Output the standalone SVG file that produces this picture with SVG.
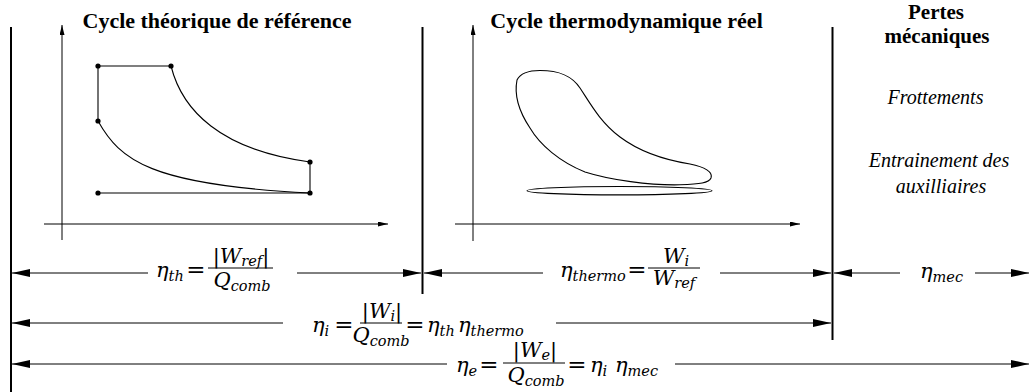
<svg xmlns="http://www.w3.org/2000/svg" width="1030" height="392" viewBox="0 0 1030 392">
<style>
.bg{fill:#fff}
.sep{stroke:#000;stroke-width:2;fill:none}
.ln{stroke:#000;stroke-width:1;fill:none}
.ax{stroke:#000;stroke-width:1;fill:none}
.cv{stroke:#000;stroke-width:1.1;fill:none}
.dot{fill:#000}
.t{font-family:"Liberation Serif","Times New Roman",serif;font-weight:bold;font-size:22px;text-anchor:middle;fill:#000}
.t2{font-family:"Liberation Serif","Times New Roman",serif;font-weight:bold;font-size:21px;text-anchor:middle;fill:#000}
.it{font-family:"Liberation Serif","Times New Roman",serif;font-style:italic;font-size:20px;text-anchor:middle;fill:#000}
.m{font-family:"DejaVu Serif","Liberation Serif",serif;font-style:italic;font-size:21px;fill:#000}
.c{text-anchor:middle}
.r{font-style:normal}
.s{font-size:14.5px}
.eq{font-size:23px}
</style>
<defs>
<marker id="ah" markerUnits="userSpaceOnUse" markerWidth="19" markerHeight="9" refX="18" refY="4" orient="auto">
<path d="M0,0 L18,4 L0,8 z" fill="#000"/>
</marker>
<marker id="axh" markerUnits="userSpaceOnUse" markerWidth="11" markerHeight="5" refX="10" refY="2.5" orient="auto">
<path d="M0,0 L10,2.5 L0,5 z" fill="#000"/>
</marker>
</defs>
<rect class="bg" x="0" y="0" width="1030" height="392"/>

<g id="separators">
<line class="sep" x1="11" y1="27" x2="11" y2="392"/>
<line class="sep" x1="422.5" y1="27" x2="422.5" y2="294"/>
<line class="sep" x1="832.5" y1="27" x2="832.5" y2="340"/>
</g>

<g id="cycle-theorique">
<text class="t" x="217" y="28">Cycle théorique de référence</text>
<line class="ax" x1="62" y1="240" x2="62" y2="25" marker-end="url(#axh)"/>
<line class="ax" x1="44" y1="224" x2="388" y2="224" marker-end="url(#axh)"/>
<line class="cv" x1="98" y1="66" x2="171" y2="66"/>
<line class="cv" x1="98" y1="66" x2="98" y2="121"/>
<line class="cv" x1="310" y1="162" x2="310" y2="193"/>
<line class="cv" x1="98" y1="193" x2="310" y2="193"/>
<path class="cv" d="M171,66 C182,110 220,150 310,162"/>
<path class="cv" d="M98,121 C120,160 150,185 310,193"/>
<circle class="dot" cx="98" cy="66" r="2.6"/>
<circle class="dot" cx="171" cy="66" r="2.6"/>
<circle class="dot" cx="98" cy="121" r="2.6"/>
<circle class="dot" cx="310" cy="162" r="2.6"/>
<circle class="dot" cx="310" cy="193" r="2.6"/>
<circle class="dot" cx="98" cy="193" r="2.6"/>
</g>

<g id="cycle-reel">
<text class="t" x="626.5" y="28">Cycle thermodynamique réel</text>
<line class="ax" x1="473" y1="241" x2="473" y2="25" marker-end="url(#axh)"/>
<line class="ax" x1="455" y1="224" x2="800" y2="224" marker-end="url(#axh)"/>
<path class="cv" d="M517,80 C521,72 530,70.5 540,70.5 C560,70.5 572,76 580,88 C590,103 600,122 620,137 C640,152 665,160 690,164 C705,167 713,172 711,178 C709,183 700,184 680,184.8 C650,185.5 610,180 585,172 C560,162 540,145 530,128 C518,110 514,95 517,80 Z"/>
<ellipse class="cv" cx="619.5" cy="190.7" rx="92.5" ry="4.2"/>
</g>

<g id="pertes-mecaniques">
<text class="t2" x="936" y="19">Pertes</text>
<text class="t2" x="937" y="43">mécaniques</text>
<text class="it" x="935.5" y="104">Frottements</text>
<text class="it" x="939" y="167">Entrainement des</text>
<text class="it" x="941" y="193">auxilliaires</text>
</g>

<g id="connectors">
<line class="ln" x1="148" y1="273" x2="12" y2="273" marker-end="url(#ah)"/>
<line class="ln" x1="297" y1="273" x2="421" y2="273" marker-end="url(#ah)"/>
<line class="ln" x1="543" y1="273" x2="424" y2="273" marker-end="url(#ah)"/>
<line class="ln" x1="720" y1="273" x2="831" y2="273" marker-end="url(#ah)"/>
<line class="ln" x1="900" y1="273" x2="834" y2="273" marker-end="url(#ah)"/>
<line class="ln" x1="975" y1="273" x2="1029" y2="273" marker-end="url(#ah)"/>
<line class="ln" x1="283" y1="323" x2="12" y2="323" marker-end="url(#ah)"/>
<line class="ln" x1="556" y1="323" x2="831" y2="323" marker-end="url(#ah)"/>
<line class="ln" x1="447" y1="364" x2="12" y2="364" marker-end="url(#ah)"/>
<line class="ln" x1="675" y1="364" x2="1029" y2="364" marker-end="url(#ah)"/>
</g>

<g id="eta-th">
<text class="m" x="156" y="277">η<tspan class="s" dy="4">th</tspan></text>
<text class="m r c eq" x="196" y="277">=</text>
<line class="ln" x1="208" y1="268" x2="273" y2="268"/>
<text class="m c" x="241" y="263"><tspan class="r">|</tspan>W<tspan class="s" dy="3">ref</tspan><tspan class="r" dy="-3">|</tspan></text>
<text class="m c" x="242" y="287">Q<tspan class="s" dy="4">comb</tspan></text>
</g>

<g id="eta-thermo">
<text class="m" x="560" y="277">η<tspan class="s" dy="4">thermo</tspan></text>
<text class="m r c eq" x="637" y="277">=</text>
<line class="ln" x1="648" y1="268" x2="700" y2="268"/>
<text class="m c" x="676" y="263">W<tspan class="s" dy="3">i</tspan></text>
<text class="m c" x="674" y="285">W<tspan class="s" dy="3">ref</tspan></text>
</g>

<g id="eta-mec">
<text class="m" x="920" y="278">η<tspan class="s" dy="4">mec</tspan></text>
</g>

<g id="eta-i">
<text class="m" x="312" y="332">η<tspan class="s" dy="4">i</tspan></text>
<text class="m r c eq" x="344" y="332">=</text>
<line class="ln" x1="360" y1="323" x2="402" y2="323"/>
<text class="m c" x="382" y="318"><tspan class="r">|</tspan>W<tspan class="s" dy="3">i</tspan><tspan class="r" dy="-3">|</tspan></text>
<text class="m c" x="381" y="342">Q<tspan class="s" dy="4">comb</tspan></text>
<text class="m r c eq" x="415" y="332">=</text>
<text class="m" x="427" y="332">η<tspan class="s" dy="4">th</tspan></text>
<text class="m" x="458" y="332">η<tspan class="s" dy="4">thermo</tspan></text>
</g>

<g id="eta-e">
<text class="m" x="456" y="372">η<tspan class="s" dy="4">e</tspan></text>
<text class="m r c eq" x="489" y="372">=</text>
<line class="ln" x1="503" y1="363" x2="565" y2="363"/>
<text class="m c" x="535" y="357"><tspan class="r">|</tspan>W<tspan class="s" dy="3">e</tspan><tspan class="r" dy="-3">|</tspan></text>
<text class="m c" x="536" y="382">Q<tspan class="s" dy="4">comb</tspan></text>
<text class="m r c eq" x="577" y="372">=</text>
<text class="m" x="590" y="372">η<tspan class="s" dy="4">i</tspan></text>
<text class="m" x="615" y="372">η<tspan class="s" dy="4">mec</tspan></text>
</g>
</svg>
